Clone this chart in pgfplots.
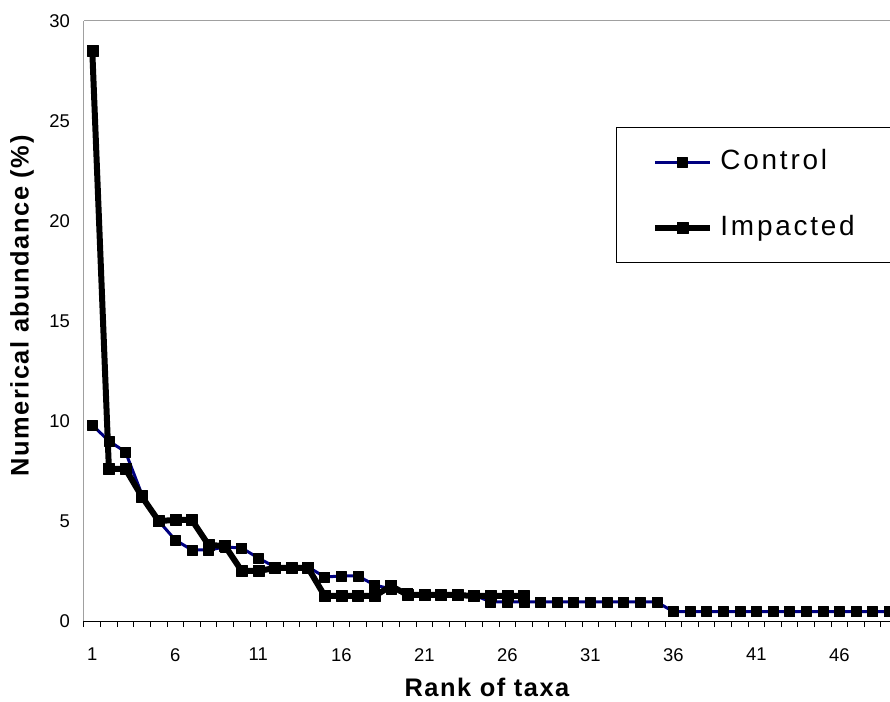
\documentclass[border=0pt]{standalone}
\usepackage{pgfplots}
\usepackage{pgfplotstable}
\pgfplotsset{compat=1.18}
\usepackage{fontspec}
\setmainfont{Liberation Sans}
\newfontfamily\legfont[LetterSpace=10]{Liberation Sans}
\newfontfamily\labfont[LetterSpace=6]{Liberation Sans}
\definecolor{ctrl}{RGB}{0,0,128}
\definecolor{framec}{RGB}{160,160,160}

\pgfplotstableread{
r v
1 9.8
2 9.0
3 8.45
4 6.3
5 5.0
6 4.05
7 3.55
8 3.55
9 3.7
10 3.65
11 3.15
12 2.7
13 2.7
14 2.7
15 2.2
16 2.25
17 2.25
18 1.8
19 1.6
20 1.4
21 1.3
22 1.3
23 1.3
24 1.3
25 0.95
26 0.95
27 0.95
28 0.95
29 0.95
30 0.95
31 0.95
32 0.95
33 0.95
34 0.95
35 0.95
36 0.47
37 0.47
38 0.47
39 0.47
40 0.47
41 0.47
42 0.47
43 0.47
44 0.47
45 0.47
46 0.47
47 0.47
48 0.47
49 0.47
50 0.47
}\control

\pgfplotstableread{
r v
1 28.5
2 7.6
3 7.6
4 6.2
5 5.0
6 5.05
7 5.05
8 3.8
9 3.75
10 2.5
11 2.5
12 2.65
13 2.65
14 2.65
15 1.25
16 1.25
17 1.25
18 1.25
19 1.75
20 1.3
21 1.3
22 1.3
23 1.3
24 1.25
25 1.25
26 1.25
27 1.25
}\impacted

\begin{document}
\begin{tikzpicture}
\begin{axis}[
  name=ax, scale only axis, width=806bp, height=600bp,
  xmin=0.5, xmax=49.05, ymin=0, ymax=30,
  axis x line*=bottom, axis y line*=left,
  x axis line style={black, line width=1bp},
  y axis line style={framec, line width=1bp},
  xtick={1,6,...,46}, minor xtick={0.5,1.5,...,49.5},
  ytick={0,5,...,30},
  major tick length=0pt, minor tick length=6bp,
  tick align=outside, xtick pos=bottom, ytick pos=left,
  minor tick style={black, line width=1bp},
  tick label style={font=\fontsize{18.5}{20}\selectfont},
  /pgf/number format/assume math mode=true,
  xticklabel style={anchor=north, inner sep=0pt, yshift=-27bp},
  yticklabel style={anchor=east, inner sep=0pt, xshift=-14bp},
  xlabel={Rank of taxa}, ylabel={Numerical abundance (\%)},
  label style={font=\labfont\bfseries\fontsize{25.5}{28}\selectfont},
  xlabel style={at={(axis description cs:0.5,-0.095)}, anchor=north, inner sep=0pt},
  ylabel style={at={(axis description cs:-0.0769,0.525)}, anchor=center, inner sep=0pt},
  clip marker paths=true,
  legend style={at={(axis description cs:0.66,0.823)}, anchor=north west,
    draw=black, line width=1bp, inner xsep=36bp, inner ysep=21bp, row sep=39bp,
    font=\legfont\fontsize{28}{32}\selectfont,
    nodes={inner sep=0pt, text height=21bp, text depth=6bp},
    /tikz/every odd column/.append style={column sep=7bp}},
  legend cell align=left,
  legend image code/.code={\draw[mark repeat=2, mark phase=2] plot coordinates {(0bp,0bp) (27bp,0bp) (55bp,0bp)};},
]
\addplot[color=ctrl, line width=3bp, line join=round, mark=square*, mark size=5bp,
  mark options={draw=black, fill=black, line width=0.5bp}] table[x=r, y=v] {\control};
\addlegendentry{Control}
\addplot[color=black, line width=6bp, line join=round, mark=square*, mark size=5.5bp,
  mark options={draw=black, fill=black, line width=0.5bp}] table[x=r, y=v] {\impacted};
\addlegendentry{Impacted}
\end{axis}
\draw[framec, line width=1bp] (ax.north west) -- (ax.north east);
\pgfresetboundingbox
\path[use as bounding box] ([xshift=-84bp,yshift=-81bp]ax.south west) rectangle ([yshift=21bp]ax.north east);
\end{tikzpicture}
\end{document}
